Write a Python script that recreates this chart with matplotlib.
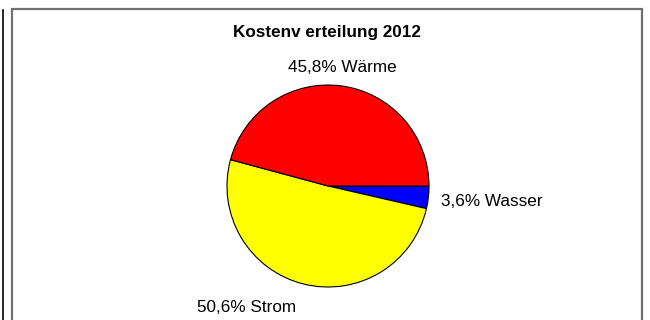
import matplotlib.pyplot as plt
from matplotlib.lines import Line2D
from matplotlib.patches import Rectangle

# data
categories = ["Wasser", "Strom", "Wärme"]
shares = [3.6, 50.6, 45.8]
colors = ["#0000FF", "#FFFF00", "#FF0000"]
title = "Kostenv erteilung 2012"

W, H = 650, 320
plt.rcParams['font.family'] = ['Liberation Sans', 'DejaVu Sans']

fig = plt.figure(figsize=(W / 100, H / 100), dpi=100)

# outer frame lines
fig.add_artist(Line2D([2.5 / W, 2.5 / W], [0, 1 - 10 / H], color='black', lw=1.2))
fig.add_artist(Rectangle((12 / W, -0.05), (642 - 12) / W, 1.05 - 9 / H,
                         fill=False, edgecolor='#707070', lw=1.6))

# pie
cx, cy, r = 328, 186, 101
ax = fig.add_axes([(cx - r) / W, (H - cy - r) / H, 2 * r / W, 2 * r / H])
ax.pie(shares, colors=colors, startangle=0, counterclock=False, radius=1,
       wedgeprops=dict(edgecolor='black', linewidth=0.8))
ax.set_xlim(-1, 1)
ax.set_ylim(-1, 1)
ax.set_aspect('equal')
ax.axis('off')

labels = [f"{v:.1f}".replace('.', ',') + "% " + c for v, c in zip(shares, categories)]
label_pos = [(441, 202, 'left'), (197, 307, 'left'), (342, 67, 'center')]
for lab, (x, y, ha) in zip(labels, label_pos):
    fig.text(x / W, 1 - y / H, lab, ha=ha, va='center', fontsize=12.3)

fig.text(327 / W, 1 - 32 / H, title, ha='center', va='center', fontsize=12.3, fontweight='bold')

fig.savefig("out.png", dpi=100)
